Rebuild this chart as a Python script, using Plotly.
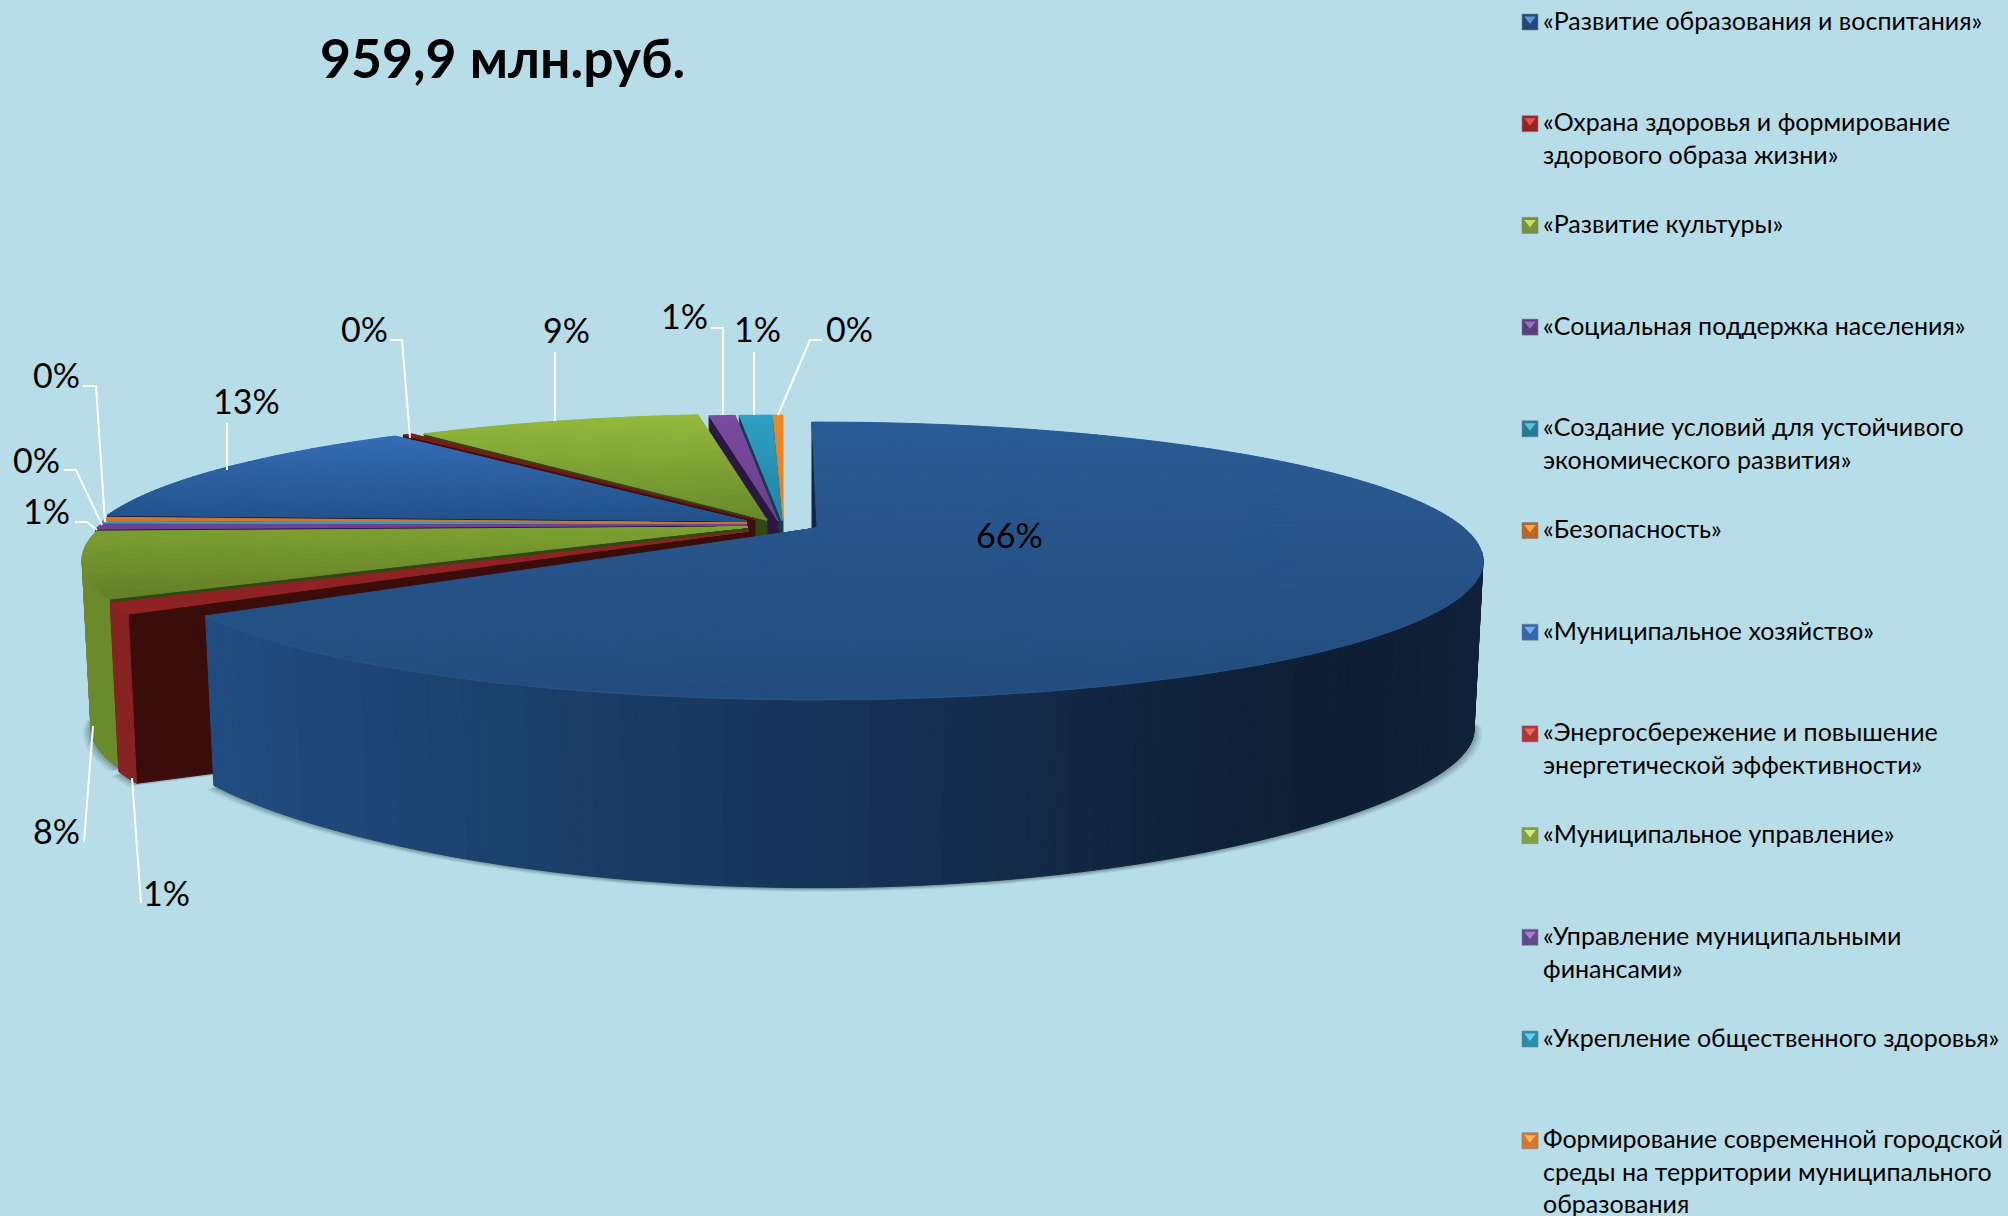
import math
import numpy as np
import plotly.graph_objects as go

# ---------- data ----------
categories = [
    "«Развитие образования и воспитания»",
    "«Охрана здоровья и формирование<br>здорового образа жизни»",
    "«Развитие культуры»",
    "«Социальная поддержка населения»",
    "«Создание условий для устойчивого<br>экономического развития»",
    "«Безопасность»",
    "«Муниципальное хозяйство»",
    "«Энергосбережение и повышение<br>энергетической эффективности»",
    "«Муниципальное управление»",
    "«Управление муниципальными<br>финансами»",
    "«Укрепление общественного здоровья»",
    "Формирование современной городской<br>среды на территории муниципального<br>образования",
]
values = [65.7, 1.2, 7.6, 0.6, 0.2, 0.4, 13.2, 0.3, 8.7, 0.8, 1.0, 0.3]
title_text = "959,9 млн.руб."

# ---------- styling / geometry ----------
BG = "#b7dde8"
FONT = "Lato, Carlito, 'Noto Sans', sans-serif"
A, B, K = 647.0, 131.0, 0.237
MAIN_TRIM = (-0.55, -1.9)   # visual gap of the pulled-out big slice, in degrees
slice_apex = [(817, 528), (749, 531), (748, 527), (747, 525), (747, 524), (747, 523),
              (747, 521), (755, 520), (767, 520), (778, 521), (782, 521), (783, 521)]
top_grad = [
    ((43, 91, 149), (33, 76, 124), 420, 700),
    ((143, 35, 35), (143, 35, 35), 500, 620),
    ((127, 162, 50), (95, 122, 38), 525, 610),
    ((122, 75, 160), (105, 62, 140), 500, 540),
    ((48, 160, 195), (48, 160, 195), 500, 540),
    ((230, 125, 40), (200, 110, 40), 500, 540),
    ((51, 107, 178), (34, 80, 136), 440, 525),
    ((125, 28, 25), (95, 18, 15), 440, 525),
    ((148, 186, 60), (104, 136, 44), 415, 525),
    ((122, 75, 160), (105, 62, 140), 415, 525),
    ((48, 160, 195), (32, 130, 165), 415, 525),
    ((238, 138, 40), (225, 125, 35), 415, 525),
]
face_col = [(18, 38, 70), (58, 13, 10), (48, 72, 20), (42, 24, 66), (20, 60, 80), (90, 50, 15),
            (16, 38, 72), (62, 14, 10), (48, 72, 20), (42, 24, 66), (20, 60, 80), (70, 60, 30)]
wall_col = [None, (135, 35, 35), (107, 138, 43), (80, 50, 110), (30, 100, 125), (150, 85, 25),
            (30, 65, 115), (110, 28, 25), (90, 115, 35), (80, 50, 110), (30, 100, 125), (150, 85, 25)]
legend_base = [(36, 72, 122), (150, 36, 36), (118, 146, 60), (88, 62, 122), (36, 122, 148), (190, 100, 35),
               (52, 100, 170), (176, 52, 52), (132, 160, 70), (100, 72, 140), (42, 140, 168), (215, 120, 40)]
legend_top = [(90, 150, 225), (235, 80, 80), (200, 222, 110), (150, 110, 195), (90, 195, 225), (250, 165, 70),
              (110, 170, 245), (245, 100, 100), (215, 235, 125), (165, 125, 210), (105, 210, 235), (252, 180, 90)]
label_pos = [(1009, 534), (166, 892), (56, 830), (46, 510), (36, 459), (56, 374),
             (246, 400), (364, 328), (566, 329), (684, 315), (757, 328), (849, 328)]
leaders = [None,
           [(141, 903), (132, 778)],
           [(84, 842), (93, 726)],
           [(75, 522), (87, 522), (97, 530)],
           [(64, 470), (76, 470), (102, 525)],
           [(83, 386), (96, 386), (105, 522)],
           [(227, 423), (227, 470)],
           [(390, 340), (402, 340), (410, 438)],
           [(555, 352), (555, 421)],
           [(711, 328), (723, 328), (723, 415)],
           [(754, 352), (754, 415)],
           [(822, 340), (810, 340), (778, 415)]]


def rgb(c):
    return "rgb(%d,%d,%d)" % tuple(int(round(v)) for v in c)


def plane(t, r=1.0):
    a = math.radians(t)
    return r * math.sin(a), -r * math.cos(a)


def top_pt(i, t, r=1.0):
    X, Y = plane(t, r)
    w = 1 - K * Y
    ax, ay = slice_apex[i]
    return ax + A * X / w, ay + B * Y / w


def bottom_pt(i, t, r=1.0):
    X, Y = plane(t, r)
    ax, ay = slice_apex[i]
    x, _ = top_pt(i, t, r)
    return ax + (x - ax) * 0.9865, ay + 173 + 112 * Y / (1 - 0.4 * Y)


fig = go.Figure()


def add_polys(polys, color, width=1.0):
    xs, ys = [], []
    for p in polys:
        xs += [q[0] for q in p] + [p[0][0], None]
        ys += [q[1] for q in p] + [p[0][1], None]
    fig.add_trace(go.Scatter(x=xs, y=ys, mode="lines", fill="toself", fillcolor=color,
                             line=dict(color=color, width=width), hoverinfo="skip", showlegend=False))


def binned(cells, values_, stops, n=24):
    lo, hi = stops[0][0], stops[-1][0]
    groups = {}
    for c, v in zip(cells, values_):
        k = int(min(n - 1, max(0, (v - lo) / (hi - lo) * n)))
        groups.setdefault(k, []).append(c)
    for k in sorted(groups):
        v = lo + (k + 0.5) / n * (hi - lo)
        xp = [s[0] for s in stops]
        col = [np.interp(v, xp, [s[1][j] for s in stops]) for j in range(3)]
        add_polys(groups[k], rgb(col))


cum = np.cumsum([0] + values)
t_start = [3.6 * c for c in cum[:-1]]
t_end = [3.6 * c for c in cum[1:]]
t_start[0] += MAIN_TRIM[0]
t_end[0] += MAIN_TRIM[1]


def draw_shadow(i, t1, t2):
    ts = np.linspace(t1, t2, 80)
    ax, ay = slice_apex[i]
    for grow, drop, alpha in [(1.012, 4, 0.10), (1.008, 3, 0.14), (1.004, 2, 0.18), (1.0, 1, 0.22)]:
        poly = [(ax, ay + 173)]
        for t in ts:
            x, y = bottom_pt(i, t)
            poly.append((ax + (x - ax) * grow, y + drop))
        xs = [p[0] for p in poly] + [poly[0][0]]
        ys = [p[1] for p in poly] + [poly[0][1]]
        fig.add_trace(go.Scatter(x=xs, y=ys, mode="lines", fill="toself",
                                 fillcolor="rgba(40,70,80,%.2f)" % alpha, line=dict(width=0),
                                 hoverinfo="skip", showlegend=False))


def draw_slice(i):
    t1, t2 = t_start[i], t_end[i]
    ax, ay = slice_apex[i]
    # cut face at the starting edge
    tx, ty = top_pt(i, t1)
    bx, by = bottom_pt(i, t1)
    add_polys([[(tx, ty), (ax, ay), (ax, ay + 173), (bx, by)]], rgb(face_col[i]))
    # rim wall, only where it faces the viewer
    w1, w2 = max(t1, 100.0), min(t2, 258.0)
    if w2 > w1:
        n = max(2, int((w2 - w1) / 1.0))
        ts = np.linspace(w1, w2, n + 1)
        cells, xv = [], []
        for a, b in zip(ts[:-1], ts[1:]):
            cells.append([top_pt(i, a), top_pt(i, b), bottom_pt(i, b), bottom_pt(i, a)])
            xv.append(top_pt(i, (a + b) / 2)[0])
        if i == 0:
            binned(cells, xv, [(200, (33, 77, 130)), (500, (28, 64, 108)), (820, (23, 52, 90)),
                               (1150, (17, 36, 62)), (1340, (14, 30, 52)), (1490, (15, 33, 56))], n=40)
        else:
            add_polys(cells, rgb(wall_col[i]))
    # top surface with vertical gradient
    c1, c2, y1, y2 = top_grad[i]
    n_t = max(3, int(math.ceil((t2 - t1) / 1.0)))
    ts = np.linspace(t1, t2, n_t + 1)
    rs = np.linspace(0, 1, 21)
    cells, yv = [], []
    for a, b in zip(ts[:-1], ts[1:]):
        for r1, r2 in zip(rs[:-1], rs[1:]):
            cell = [top_pt(i, a, r1), top_pt(i, b, r1), top_pt(i, b, r2), top_pt(i, a, r2)]
            cells.append(cell)
            yv.append(sum(p[1] for p in cell) / 4)
    binned(cells, yv, [(y1, c1), (y2, c2)], n=20)


draw_shadow(2, 241, 262)
draw_shadow(1, t_start[1], t_end[1])
draw_shadow(0, 100, t_end[0])
for i in range(len(values) - 1, -1, -1):
    draw_slice(i)

# sheen on the front rim of the big slice
ts = np.linspace(100, t_end[0], 120)
rim = [top_pt(0, t) for t in ts]
fig.add_trace(go.Scatter(x=[p[0] for p in rim], y=[p[1] for p in rim], mode="lines",
                         line=dict(color="rgb(38,84,138)", width=1.2), hoverinfo="skip", showlegend=False))

# leader lines
for seg in leaders:
    if seg:
        fig.add_trace(go.Scatter(x=[p[0] for p in seg], y=[p[1] for p in seg], mode="lines",
                                 line=dict(color="white", width=2), hoverinfo="skip", showlegend=False))

# legend: square keys drawn by markers, texts by annotations
row_y = [22 + 101.7 * i for i in range(len(categories))]
fig.add_trace(go.Scatter(x=[1530] * len(row_y), y=row_y, mode="markers",
                         marker=dict(symbol="square", size=16, color=[rgb(c) for c in legend_base],
                                     line=dict(color="rgba(120,130,140,0.6)", width=1)),
                         hoverinfo="skip", showlegend=False))
fig.add_trace(go.Scatter(x=[1530] * len(row_y), y=[y - 3 for y in row_y], mode="markers",
                         marker=dict(symbol="triangle-down", size=10, color=[rgb(c) for c in legend_top],
                                     line=dict(width=0)),
                         hoverinfo="skip", showlegend=False))

ann = []
for name, y in zip(categories, row_y):
    ann.append(dict(x=1541, y=y - 19.5, xref="x", yref="y", text=name, showarrow=False, xanchor="left",
                    yanchor="top", align="left", font=dict(family=FONT, size=25, color="#000000")))
for v, (x, y) in zip(values, label_pos):
    ann.append(dict(x=x, y=y, xref="x", yref="y", text="%d%%" % round(v), showarrow=False,
                    font=dict(family=FONT, size=34, color="#000000")))
ann.append(dict(x=502, y=56.5, xref="x", yref="y", text="<b>%s</b>" % title_text, showarrow=False,
                font=dict(family=FONT, size=53.5, color="#000000")))

fig.update_layout(
    width=2008, height=1216, margin=dict(l=0, r=0, t=0, b=0),
    paper_bgcolor=BG, plot_bgcolor=BG, showlegend=False, annotations=ann,
    xaxis=dict(range=[0, 2008], visible=False, fixedrange=True),
    yaxis=dict(range=[1216, 0], visible=False, fixedrange=True),
)
fig.write_html("out.html", config=dict(displayModeBar=False),
               post_script="document.body.style.margin='0';document.body.style.overflow='hidden';"
                           "document.body.style.background='%s';" % BG)
